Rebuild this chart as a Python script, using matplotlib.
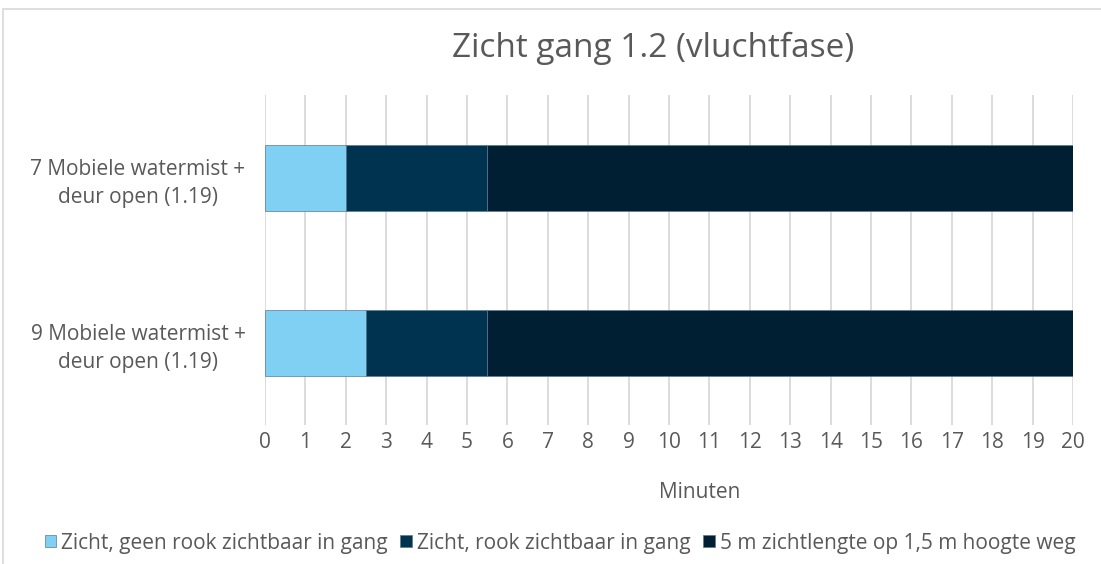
import matplotlib
matplotlib.use("Agg")
import matplotlib.pyplot as plt
from matplotlib.patches import Rectangle

categories = ["7 Mobiele watermist +\ndeur open (1.19)", "9 Mobiele watermist +\ndeur open (1.19)"]
series_names = ["Zicht, geen rook zichtbaar in gang", "Zicht, rook zichtbaar in gang", "5 m zichtlengte op 1,5 m hoogte weg"]
s1 = [2.0, 2.5]
s2 = [3.5, 3.0]
s3 = [14.5, 14.5]
colors = ["#7fd0f3", "#003350", "#001f33"]
xticks = list(range(0, 21))

plt.rcParams['font.family'] = ['Open Sans', 'DejaVu Sans']

fig = plt.figure(figsize=(11.01, 5.64), dpi=100)
W, H = 1101, 564
ax = fig.add_axes([265 / W, 1 - 425 / H, (1073 - 265) / W, (425 - 95) / H])

fig.patches.append(Rectangle((3 / W, -0.1), 1.2, 1 - 9 / H + 0.1, transform=fig.transFigure,
                             fill=False, edgecolor="#d9d9d9", linewidth=1.2))

ypos = list(range(len(categories)))
left = [0] * len(categories)
for vals, name, c in zip([s1, s2, s3], series_names, colors):
    ax.barh(ypos, vals, left=left, height=0.4, color=c, label=name,
            edgecolor="#5a7a90", linewidth=0.5, zorder=3)
    left = [l + v for l, v in zip(left, vals)]

ax.set_xlim(0, 20)
ax.set_ylim(1.5, -0.5)
ax.set_xticks(xticks)
ax.set_xticklabels([str(t) for t in xticks], fontsize=15, color="#595959")
ax.set_yticks(ypos)
ax.set_yticklabels(categories, fontsize=15, color="#595959", multialignment="center",
                   linespacing=1.45)
ax.tick_params(axis="both", length=0)
ax.tick_params(axis="x", pad=5)
ax.tick_params(axis="y", pad=14)
ax.grid(axis="x", color="#d9d9d9", linewidth=1.3, zorder=0)
ax.set_axisbelow(True)
for s in ax.spines.values():
    s.set_visible(False)

ax.set_xlabel("Minuten", fontsize=15, color="#595959")
ax.xaxis.set_label_coords((700 - 265) / 808, -(492 - 425) / 330)
ax.xaxis.label.set_va("center")
fig.text(653 / W, 1 - 48 / H, "Zicht gang 1.2 (vluchtfase)", fontsize=24, color="#595959",
         ha="center", va="center")

fig.legend(loc="center", bbox_to_anchor=(560 / W, 1 - 543 / H), ncol=3, frameon=False,
           fontsize=15, handlelength=0.55, handleheight=0.55, handletextpad=0.25, columnspacing=0.6,
           labelcolor="#595959")

fig.savefig("out.png", dpi=100)
